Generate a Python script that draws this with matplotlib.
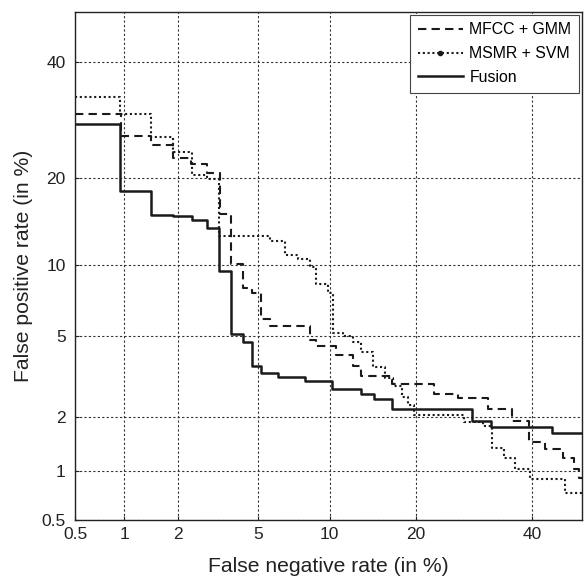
import numpy as np
import matplotlib
matplotlib.use("Agg")
import matplotlib.pyplot as plt
from matplotlib.lines import Line2D
from statistics import NormalDist

# DET curves: false negative rate (x) vs false positive rate (y), in %
fusion_x = [0.5, 0.944, 1.42, 1.88, 2.37, 2.82, 3.26, 3.72, 4.23, 4.67, 5.16, 6.11, 7.96, 10.2, 13.1, 14.5, 16.7, 28.8, 32.3, 44]
fusion_y = [28.5, 18.2, 15.2, 15, 14.6, 13.7, 9.48, 5.13, 4.7, 3.63, 3.37, 3.22, 3.08, 2.79, 2.63, 2.49, 2.2, 1.91, 1.77, 1.63]
mfcc_x = [0.5, 0.955, 1.42, 1.89, 2.35, 2.84, 3.28, 3.72, 4.24, 4.67, 5.16, 5.66, 8.35, 8.81, 10.6, 12.2, 13.1, 16.7, 22.7, 26.5, 31.7, 36.2, 39.4, 42.6, 46.3, 48.5, 49.4]
mfcc_y = [30.3, 26.5, 25, 23, 22, 20.8, 15.3, 10.1, 8.12, 7.73, 6, 5.59, 4.83, 4.52, 4.1, 3.63, 3.25, 2.95, 2.63, 2.51, 2.2, 1.91, 1.47, 1.33, 1.18, 1.02, 0.907]
msmr_x = [0.5, 0.944, 1.42, 1.89, 2.36, 2.83, 3.26, 5.66, 6.53, 7.47, 8.35, 8.85, 9.86, 10.3, 11.2, 12.2, 13.1, 14.4, 15.8, 16.8, 18, 18.8, 19.7, 27.5, 30.8, 32.5, 34.6, 36.8, 39.6, 46.7]
msmr_y = [33.3, 30.3, 26.4, 23.9, 20.5, 19.8, 12.8, 12.3, 10.9, 10.5, 9.78, 8.39, 7.69, 5.17, 5.02, 4.71, 4.25, 3.58, 3.16, 2.9, 2.56, 2.32, 2.05, 1.89, 1.8, 1.35, 1.18, 1.02, 0.891, 0.74]

ticks = [0.5, 1, 2, 5, 10, 20, 40]
tick_labels = ["0.5", "1", "2", "5", "10", "20", "40"]
labels = ["MFCC + GMM", "MSMR + SVM", "Fusion"]

plt.rcParams['font.family'] = ['Liberation Sans', 'DejaVu Sans']

nd = NormalDist()

# normal deviate (probit) scale, values given in percent
def forward(p):
    p = np.clip(np.asarray(p, dtype=float) / 100, 1e-6, 1 - 1e-6)
    return np.vectorize(nd.inv_cdf, otypes=[float])(p)

def inverse(z):
    return np.vectorize(nd.cdf, otypes=[float])(np.asarray(z, dtype=float)) * 100

fig = plt.figure(figsize=(5.84, 5.79), dpi=100)
ax = fig.add_axes([0.129, 0.102, 0.867, 0.877])
ax.set_xscale('function', functions=(forward, inverse))
ax.set_yscale('function', functions=(forward, inverse))

def steps(x, y, **kw):
    x = list(x) + [50]
    y = list(y) + [y[-1]]
    ax.step(x, y, where='post', color='#1a1a1a', **kw)

steps(mfcc_x, mfcc_y, lw=1.5, ls=(0, (4, 2.5)))
steps(msmr_x, msmr_y, lw=1.5, ls=(0, (1, 1.3)))
steps(fusion_x, fusion_y, lw=1.8, ls='-')

ax.set_xlim(0.5, 50)
ax.set_ylim(0.5, 50)
ax.set_xticks(ticks)
ax.set_xticklabels(tick_labels)
ax.set_yticks(ticks)
ax.set_yticklabels(tick_labels)
ax.minorticks_off()
ax.tick_params(direction='in', length=3, labelsize=12.5, colors='#222222')
ax.tick_params(axis='y', pad=7)
ax.tick_params(axis='x', pad=5)
ax.grid(True, ls=(0, (2, 2)), color='#333333', lw=0.8)
for sp in ax.spines.values():
    sp.set_color('#222222')
    sp.set_linewidth(1.0)

ax.set_xlabel("False negative rate (in %)", fontsize=15.2, color='#222222', labelpad=11)
ax.set_ylabel("False positive rate (in %)", fontsize=15.2, color='#222222', labelpad=6)

handles = [
    Line2D([], [], color='#1a1a1a', lw=1.5, ls=(0, (4, 2.5))),
    Line2D([], [], color='#1a1a1a', lw=1.5, ls=(0, (1, 1.3)), marker='o', markersize=3),
    Line2D([], [], color='#1a1a1a', lw=1.8, ls='-'),
]
leg = ax.legend(handles, labels, loc='upper right', fontsize=11.4, fancybox=False,
                framealpha=1, edgecolor='#444444', numpoints=1, handlelength=2.85,
                borderaxespad=0.15, labelspacing=0.55, handletextpad=0.4,
                borderpad=0.5)
leg.get_frame().set_linewidth(0.8)

fig.savefig("out.png", dpi=100)
